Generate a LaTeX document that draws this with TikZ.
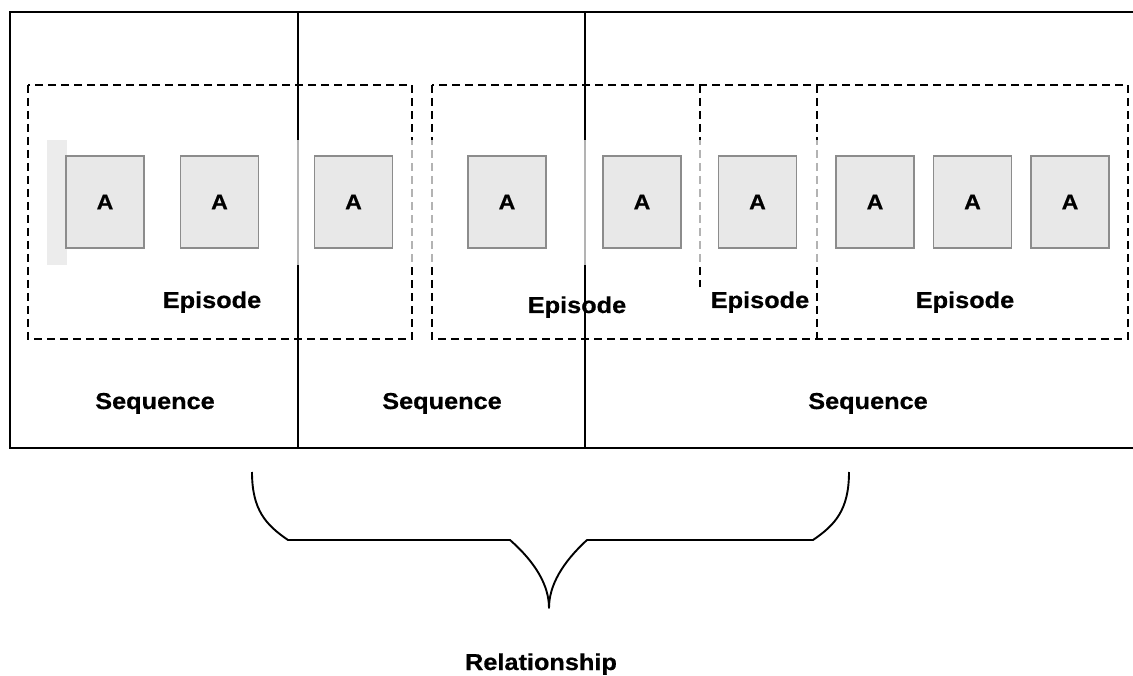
\documentclass[tikz,border=0pt]{standalone}
\usepackage{fontspec}
\setmainfont{Liberation Sans}[BoldFeatures={FakeBold=0.6}]
\newcommand\widetxt[1]{\scalebox{1.1}[1]{#1}}
\definecolor{framefill}{RGB}{232,232,232}
\definecolor{frameedge}{RGB}{140,140,140}
\definecolor{stripgray}{RGB}{236,236,236}
\tikzset{
  seqline/.style={line width=2.2pt, black},
  epline/.style={line width=2.2pt, black, dash pattern=on 8pt off 5pt},
  frame/.style={draw=frameedge, fill=framefill, line width=1.3pt,
    minimum width=78pt, minimum height=92pt, inner sep=0pt,
    font=\fontsize{21}{24}\selectfont\bfseries},
  tag/.style={anchor=base, inner sep=0pt, font=\fontsize{23}{27}\selectfont\bfseries},
  braceline/.style={line width=1.9pt, black, line join=round}
}
\begin{document}
\begin{tikzpicture}[x=1pt, y=-1pt]
\useasboundingbox (0,0) rectangle (1133,676);

% sequences: outer frame and dividers (right side left open)
\draw[seqline] (1133,12) -- (10,12) -- (10,448) -- (1133,448);
\draw[seqline] (298,12) -- (298,448);
\draw[seqline] (585,12) -- (585,448);

% episodes: dashed boxes
\draw[epline] (28,85) rectangle (412,339);
\draw[epline] (432,85) rectangle (1128,339);
\draw[epline] (700,85) -- (700,287);
\draw[epline] (817,85) -- (817,339);

% film strip band washes out the lines it crosses
\fill[white, opacity=0.7] (47,140) rectangle (1115,265);
\fill[stripgray] (47,140) rectangle (67,265);

% shots
\node[frame] (f1) at (105,202) {\widetxt{A}};
\node[frame] (f2) at (219.5,202) {\widetxt{A}};
\node[frame] (f3) at (353.5,202) {\widetxt{A}};
\node[frame] (f4) at (507,202) {\widetxt{A}};
\node[frame] (f5) at (642,202) {\widetxt{A}};
\node[frame] (f6) at (757.5,202) {\widetxt{A}};
\node[frame] (f7) at (875,202) {\widetxt{A}};
\node[frame] (f8) at (972.5,202) {\widetxt{A}};
\node[frame] (f9) at (1070,202) {\widetxt{A}};

% episode labels
\node[tag] (e1) at (212,308) {\widetxt{Episode}};
\node[tag] (e2) at (577,313) {\widetxt{Episode}};
\node[tag] (e3) at (760,308) {\widetxt{Episode}};
\node[tag] (e4) at (965,308) {\widetxt{Episode}};

% sequence labels
\node[tag] (s1) at (155,409) {\widetxt{Sequence}};
\node[tag] (s2) at (442,409) {\widetxt{Sequence}};
\node[tag] (s3) at (868,409) {\widetxt{Sequence}};

% curly brace grouping the sequences
\draw[braceline] (252,472) .. controls (252,510) and (266,525) .. (288,540)
  -- (510,540) .. controls (535,562) and (549,585) .. (549,608)
  .. controls (549,585) and (563,562) .. (587,540)
  -- (813,540) .. controls (835,525) and (849,510) .. (849,472);

\node[tag] (rel) at (541,670) {\widetxt{Relationship}};
\end{tikzpicture}
\end{document}
